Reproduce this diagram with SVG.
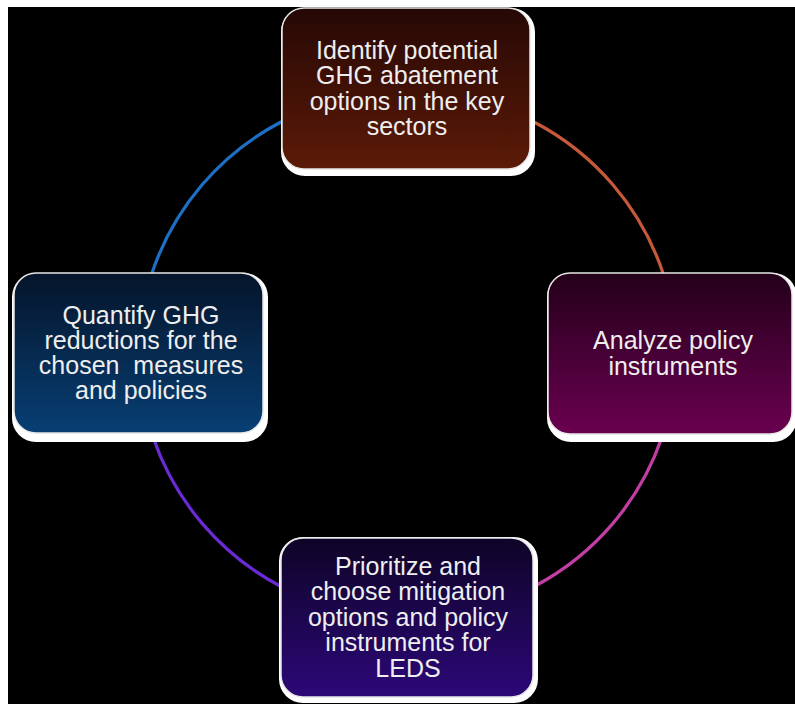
<svg xmlns="http://www.w3.org/2000/svg" width="795" height="704" viewBox="0 0 795 704">
  <defs>
    <linearGradient id="gTop" x1="0" y1="0" x2="0" y2="1">
      <stop offset="0" stop-color="#260805"/>
      <stop offset="1" stop-color="#5c1a07"/>
    </linearGradient>
    <linearGradient id="gRight" x1="0" y1="0" x2="0" y2="1">
      <stop offset="0" stop-color="#24001a"/>
      <stop offset="1" stop-color="#6a0050"/>
    </linearGradient>
    <linearGradient id="gLeft" x1="0" y1="0" x2="0" y2="1">
      <stop offset="0" stop-color="#05142a"/>
      <stop offset="1" stop-color="#073f74"/>
    </linearGradient>
    <linearGradient id="gBottom" x1="0" y1="0" x2="0" y2="1">
      <stop offset="0" stop-color="#0e0426"/>
      <stop offset="1" stop-color="#2c0878"/>
    </linearGradient>
  </defs>
  <style>
    .shadow { fill: #ffffff; }
    .box { stroke: #e6e6e6; stroke-width: 1.5; }
    .label { font-family: "Liberation Sans", Arial, sans-serif; font-size: 25px; fill: #eeeeee; text-anchor: middle; }
    .arc { fill: none; stroke-width: 3.2; stroke-linecap: round; }
  </style>

  <!-- background -->
  <rect x="0" y="0" width="795" height="704" fill="#ffffff"/>
  <rect x="8" y="7" width="787" height="697" fill="#000000"/>

  <!-- connectors: four arcs of the cycle -->
  <g id="connectors">
    <path class="arc" stroke="#1e6fc6" d="M 281 122 A 266 266 0 0 0 152 273"/>
    <path class="arc" stroke="#c7593b" d="M 534 122 A 266 266 0 0 1 663 273"/>
    <path class="arc" stroke="#c23ea4" d="M 662 437 A 266 266 0 0 1 535 586"/>
    <path class="arc" stroke="#6a2ad4" d="M 153 437 A 266 266 0 0 0 280 586"/>
  </g>

  <!-- top node -->
  <g id="node-identify">
    <rect class="shadow" x="281" y="8" width="254" height="168" rx="24"/>
    <rect class="box" x="282" y="8" width="248" height="161" rx="22" fill="url(#gTop)"/>
    <text class="label" x="407" y="59">Identify potential</text>
    <text class="label" x="407" y="84">GHG abatement</text>
    <text class="label" x="407" y="110">options in the key</text>
    <text class="label" x="407" y="135">sectors</text>
  </g>

  <!-- right node -->
  <g id="node-analyze">
    <rect class="shadow" x="547" y="273" width="250" height="169" rx="24"/>
    <rect class="box" x="548" y="273" width="244" height="161" rx="22" fill="url(#gRight)"/>
    <text class="label" x="673" y="349">Analyze policy</text>
    <text class="label" x="673" y="375">instruments</text>
  </g>

  <!-- left node -->
  <g id="node-quantify">
    <rect class="shadow" x="12" y="273" width="256" height="169" rx="24"/>
    <rect class="box" x="14" y="273" width="249" height="160" rx="22" fill="url(#gLeft)"/>
    <text class="label" x="141" y="324">Quantify GHG</text>
    <text class="label" x="141" y="349">reductions for the</text>
    <text class="label" x="141" y="374" style="white-space:pre" xml:space="preserve">chosen  measures</text>
    <text class="label" x="141" y="399">and policies</text>
  </g>

  <!-- bottom node -->
  <g id="node-prioritize">
    <rect class="shadow" x="279" y="537" width="259" height="166" rx="24"/>
    <rect class="box" x="281" y="538" width="252" height="159" rx="22" fill="url(#gBottom)"/>
    <text class="label" x="408" y="575">Prioritize and</text>
    <text class="label" x="408" y="600">choose mitigation</text>
    <text class="label" x="408" y="626">options and policy</text>
    <text class="label" x="408" y="651">instruments for</text>
    <text class="label" x="408" y="677">LEDS</text>
  </g>
</svg>
